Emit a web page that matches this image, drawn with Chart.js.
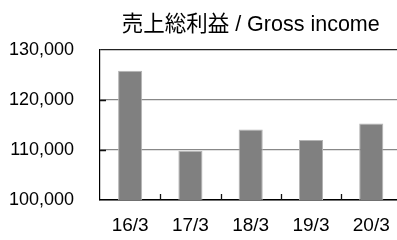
<!DOCTYPE html>
<html>
<head>
<meta charset="utf-8">
<script src="https://cdn.jsdelivr.net/npm/chart.js@4"></script>
<style>
  html, body { margin: 0; padding: 0; background: #fff; overflow: hidden; }
  #wrap { width: 404px; height: 240px; }
</style>
</head>
<body>
<div id="wrap"><canvas id="grossChart"></canvas></div>
<script>
var categories = ["16/3", "17/3", "18/3", "19/3", "20/3"];
var grossIncome = [125800, 109800, 114100, 112000, 115300];
var yTicks = [100000, 110000, 120000, 130000];

var sans = "'Liberation Sans', Arial, sans-serif";

// Excel style tick marks drawn inside the plot area
var insideTicks = {
  id: 'insideTicks',
  afterDraw: function(chart) {
    var ctx = chart.ctx, x = chart.scales.x, y = chart.scales.y, area = chart.chartArea;
    ctx.save();
    ctx.strokeStyle = '#111';
    ctx.lineWidth = 1.3;
    ctx.beginPath();
    yTicks.forEach(function(v) {
      if (v === yTicks[0] || v === yTicks[yTicks.length - 1]) return;
      var py = Math.round(y.getPixelForValue(v)) + 0.5;
      ctx.moveTo(area.left, py);
      ctx.lineTo(area.left + 6, py);
    });
    for (var i = 0; i < categories.length - 1; i++) {
      var px = Math.round((x.getPixelForValue(i) + x.getPixelForValue(i + 1)) / 2) + 0.5;
      ctx.moveTo(px, area.bottom);
      ctx.lineTo(px, area.bottom - 6);
    }
    ctx.stroke();
    ctx.restore();
  }
};

new Chart(document.getElementById('grossChart'), {
  type: 'bar',
  data: {
    labels: categories,
    datasets: [{
      data: grossIncome,
      backgroundColor: '#808080',
      borderColor: '#b4b4b4',
      borderWidth: 1,
      barPercentage: 0.4,
      categoryPercentage: 1.0
    }]
  },
  options: {
    responsive: true,
    maintainAspectRatio: false,
    animation: false,
    layout: { padding: { left: 0, right: 2, top: 0, bottom: 0 } },
    plugins: {
      legend: { display: false },
      tooltip: { enabled: false },
      title: {
        display: true,
        text: '売上総利益 / Gross income',
        fullSize: false,
        color: '#000',
        font: { family: "'Liberation Sans', Arial, 'Noto Sans CJK JP', sans-serif", size: 21.5, weight: 'normal', lineHeight: 1.2 },
        padding: { top: 12, bottom: 12 }
      }
    },
    scales: {
      x: {
        grid: { display: false, drawTicks: false },
        border: { color: '#000', width: 1.5 },
        ticks: { color: '#000', padding: 14, font: { family: sans, size: 19 } },
        afterFit: function(scale) { scale.height = 40; }
      },
      y: {
        min: 100000,
        max: 130000,
        afterBuildTicks: function(scale) {
          scale.ticks = yTicks.map(function(v) { return { value: v }; });
        },
        grid: {
          drawTicks: false,
          lineWidth: 1.3,
          color: function(c) { return c.tick && c.tick.value === 130000 ? '#222' : '#888'; }
        },
        border: { color: '#000', width: 1.2 },
        ticks: {
          color: '#000',
          padding: 26,
          font: { family: sans, size: 18 },
          callback: function(v) { return v.toLocaleString('en-US'); }
        },
        afterFit: function(scale) { scale.width = 100; }
      }
    }
  },
  plugins: [insideTicks]
});
</script>
</body>
</html>
